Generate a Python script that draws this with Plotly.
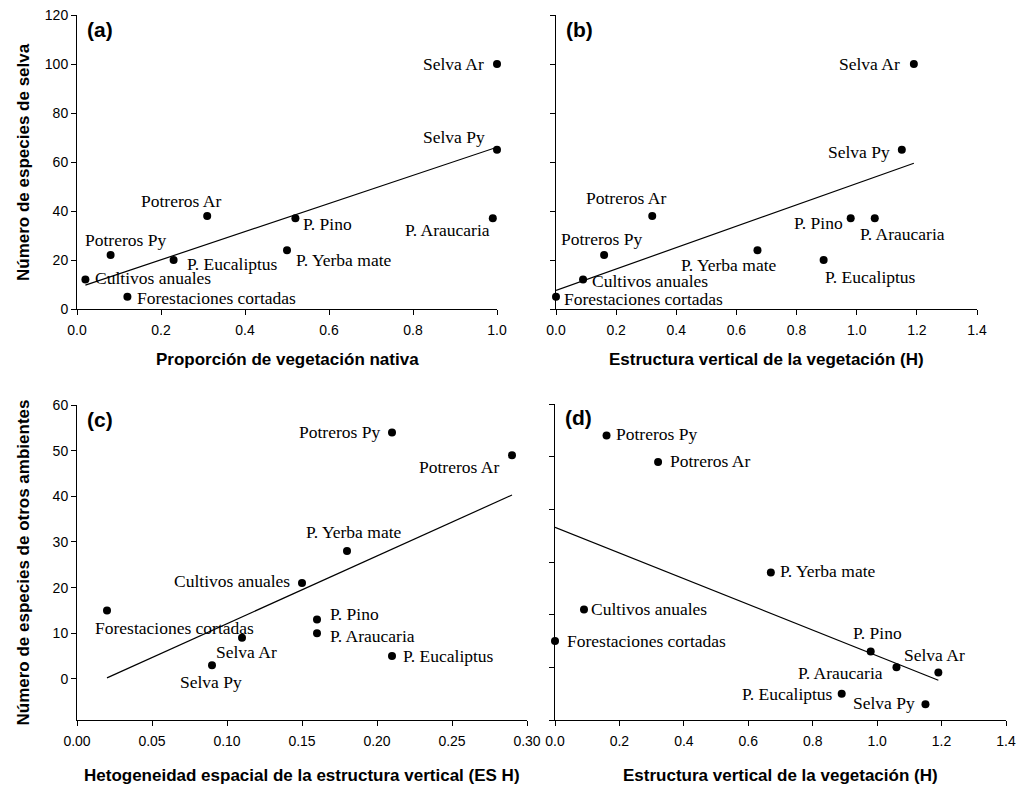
import numpy as np
import plotly.graph_objects as go

# ---------------- data ----------------
categories = ["Selva Ar", "Selva Py", "P. Araucaria", "P. Pino", "P. Eucaliptus",
              "P. Yerba mate", "Potreros Ar", "Potreros Py", "Cultivos anuales",
              "Forestaciones cortadas"]
prop_nativa = [1.00, 1.00, 0.99, 0.52, 0.23, 0.50, 0.31, 0.08, 0.02, 0.12]
estructura_H = [1.19, 1.15, 1.06, 0.98, 0.89, 0.67, 0.32, 0.16, 0.09, 0.00]
es_H = [0.11, 0.09, 0.16, 0.16, 0.21, 0.18, 0.29, 0.21, 0.15, 0.02]
spp_selva = [100, 65, 37, 37, 20, 24, 38, 22, 12, 5]
spp_otros = [9, 3, 10, 13, 5, 28, 49, 54, 21, 15]

panel_letters = ["(a)", "(b)", "(c)", "(d)"]
x_titles = ["Proporción de vegetación nativa",
            "Estructura vertical de la vegetación (H)",
            "Hetogeneidad espacial de la estructura vertical (ES H)",
            "Estructura vertical de la vegetación (H)"]
y_titles = ["Número de especies de selva", "Número de especies de otros ambientes"]

# ---------------- layout / style ----------------
W, H = 1018, 787
SERIF = "Liberation Serif, Times New Roman, serif"
SANS = "Liberation Sans, Arial, sans-serif"

def px_x(p):
    return p / W

def px_y(p):
    return 1 - p / H

# panel pixel boxes: left, right, top, bottom
boxes = [(77, 497, 15, 309), (556, 977, 15, 309),
         (77, 527, 405, 720), (555, 1006, 404, 720)]

panels = [
    dict(x=prop_nativa, y=spp_selva, xr=[0, 1.0], yr=[0, 120], xd=0.2, yd=20,
         xf=".1f", ylab=True),
    dict(x=estructura_H, y=spp_selva, xr=[0, 1.4], yr=[0, 120], xd=0.2, yd=20,
         xf=".1f", ylab=False),
    dict(x=es_H, y=spp_otros, xr=[0, 0.30], yr=[-9, 60], xd=0.05, yd=10,
         xf=".2f", ylab=True),
    dict(x=estructura_H, y=spp_otros, xr=[0, 1.4], yr=[0, 60], xd=0.2, yd=10,
         xf=".1f", ylab=False),
]

# label placement per panel: anchor, dx (px), dy (px, up positive)
label_pos = [
    {"Selva Ar": ("right", -11, 0), "Selva Py": ("right", -10, 13),
     "P. Araucaria": ("right", -1, -12), "P. Pino": ("left", 6, -6),
     "Potreros Ar": ("left", -68, 15), "Potreros Py": ("left", -28, 15),
     "P. Eucaliptus": ("left", 11, -4), "P. Yerba mate": ("left", 7, -10),
     "Cultivos anuales": ("left", 8, 2), "Forestaciones cortadas": ("left", 8, -1)},
    {"Selva Ar": ("right", -12, 0), "Selva Py": ("right", -10, -2),
     "P. Araucaria": ("left", -17, -16), "P. Eucaliptus": ("left", -1, -17),
     "P. Pino": ("right", -6, -5), "P. Yerba mate": ("left", -78, -15),
     "Potreros Ar": ("left", -68, 18), "Potreros Py": ("left", -45, 16),
     "Cultivos anuales": ("left", 7, -1), "Forestaciones cortadas": ("left", 6, -2)},
    {"Potreros Py": ("right", -10, 0), "Potreros Ar": ("right", -11, -12),
     "P. Yerba mate": ("left", -43, 19), "Cultivos anuales": ("right", -10, 2),
     "P. Pino": ("left", 11, 6), "P. Araucaria": ("left", 11, -3),
     "P. Eucaliptus": ("left", 9, 0), "Forestaciones cortadas": ("left", -14, -18),
     "Selva Ar": ("left", -28, -14), "Selva Py": ("left", -34, -17)},
    {"Potreros Py": ("left", 7, 2), "Potreros Ar": ("left", 10, 1),
     "P. Yerba mate": ("left", 7, 2), "Cultivos anuales": ("left", 5, 0),
     "Forestaciones cortadas": ("left", 10, 0), "P. Pino": ("left", -20, 19),
     "P. Araucaria": ("right", -11, -6), "Selva Ar": ("left", -36, 18),
     "P. Eucaliptus": ("right", -7, 0), "Selva Py": ("right", -8, 1)},
]

fig = go.Figure()
annotations = []

for i, p in enumerate(panels):
    xa = "x" if i == 0 else f"x{i+1}"
    ya = "y" if i == 0 else f"y{i+1}"
    xs = np.array(p["x"], dtype=float)
    ys = np.array(p["y"], dtype=float)
    # least squares regression line across the data range
    slope, intercept = np.polyfit(xs, ys, 1)
    lx = np.array([xs.min(), xs.max()])
    fig.add_trace(go.Scatter(x=lx, y=intercept + slope * lx, mode="lines",
                             line=dict(color="black", width=1.2),
                             xaxis=xa, yaxis=ya, showlegend=False, hoverinfo="skip"))
    fig.add_trace(go.Scatter(x=xs, y=ys, mode="markers", cliponaxis=False,
                             marker=dict(color="black", size=8),
                             xaxis=xa, yaxis=ya, showlegend=False,
                             text=categories))
    for name, xv, yv in zip(categories, p["x"], p["y"]):
        anc, dx, dy = label_pos[i][name]
        annotations.append(dict(x=xv, y=yv, xref=xa, yref=ya, text=name,
                                showarrow=False, xanchor=anc, yanchor="middle",
                                xshift=dx, yshift=dy,
                                font=dict(family=SERIF, size=17.5, color="black")))

    l, r, t, b = boxes[i]
    axis_common = dict(showline=True, linecolor="black", linewidth=1,
                       ticks="outside", ticklen=5, tickcolor="black", tickwidth=1,
                       showgrid=False, zeroline=False, mirror=False, automargin=False,
                       tickfont=dict(family=SANS, size=14, color="black"))
    key_x = "xaxis" if i == 0 else f"xaxis{i+1}"
    key_y = "yaxis" if i == 0 else f"yaxis{i+1}"
    fig.update_layout(**{
        key_x: dict(domain=[px_x(l), px_x(r)], range=p["xr"], dtick=p["xd"], tick0=0,
                    tickformat=p["xf"], anchor=ya, ticklabelstandoff=3, **axis_common),
        key_y: dict(domain=[px_y(b), px_y(t)], range=p["yr"], dtick=p["yd"], tick0=0,
                    showticklabels=p["ylab"], anchor=xa, **axis_common),
    })

    # panel letter
    annotations.append(dict(x=px_x(l + 8), y=px_y(t + 14), xref="paper", yref="paper",
                            text=f"<b>{panel_letters[i]}</b>", showarrow=False,
                            xanchor="left", yanchor="middle",
                            font=dict(family=SANS, size=21, color="black")))
    # x title
    ty = 360 if i < 2 else 775
    annotations.append(dict(x=px_x((l + r) / 2), y=px_y(ty), xref="paper", yref="paper",
                            text=f"<b>{x_titles[i]}</b>", showarrow=False,
                            xanchor="center", yanchor="middle",
                            font=dict(family=SANS, size=17, color="black")))

# y titles
for yt, (t, b) in zip(y_titles, [(15, 309), (405, 720)]):
    annotations.append(dict(x=px_x(23), y=px_y((t + b) / 2), xref="paper", yref="paper",
                            text=f"<b>{yt}</b>", showarrow=False, textangle=-90,
                            xanchor="center", yanchor="middle",
                            font=dict(family=SANS, size=17, color="black")))

fig.update_layout(template="none", width=W, height=H,
                  margin=dict(l=0, r=0, t=0, b=0, pad=0),
                  paper_bgcolor="white", plot_bgcolor="white",
                  annotations=annotations, showlegend=False)

fig.write_html("out.html")
